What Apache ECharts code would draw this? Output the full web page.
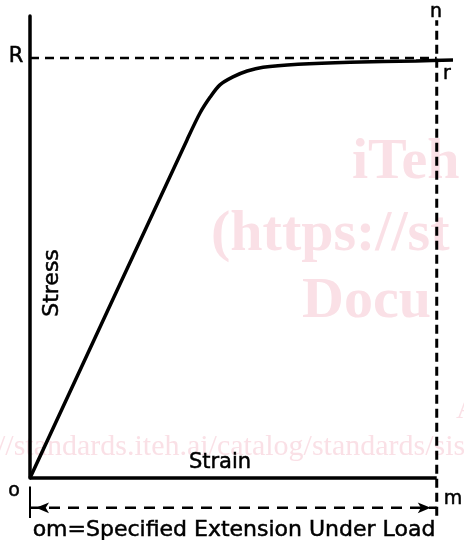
<!DOCTYPE html>
<html>
<head>
<meta charset="utf-8">
<title>Stress-strain</title>
<script src="https://cdn.jsdelivr.net/npm/echarts@6/dist/echarts.min.js"></script>
<style>
  html, body { margin: 0; padding: 0; background: #fff; }
  #chart { width: 464px; height: 540px; }
</style>
</head>
<body>
<div id="chart"></div>
<script>
// curve (x = strain, y = stress, R = 100)
var strain = [0, 38.6, 41.8, 44.3, 46.7, 49.9, 53.4, 57.3, 65.9, 78.7, 94.9, 104.0];
var stress = [0, 80.5, 86.9, 90.7, 93.6, 95.5, 96.9, 97.8, 98.5, 99.0, 99.3, 99.5];
var R_level = 100;   // dashed line r
var m_level = 100;   // om, specified extension
var dimY = -7.1;     // where the om arrow sits

var labels = ['R', 'n', 'r', 'o', 'm', 'Stress', 'Strain', 'om=Specified Extension Under Load'];
var marks = ['iTeh', '(https://st', 'Docu', 'A', '//standards.iteh.ai/catalog/standards/sist'];

var curve = [];
for (var i = 0; i < strain.length; i++) {
	curve.push([strain[i], stress[i]]);
}

var font = '"DejaVu Sans", sans-serif';
function txt(s, x, y, size, extra) {
	var o = {type: 'text', x: x, y: y, z: 10,
		style: {text: s, fill: '#000', stroke: '#000', lineWidth: 0.5,
			font: size + 'px ' + font, textAlign: 'center', textVerticalAlign: 'middle'}};
	if (extra) { for (var k in extra) o[k] = extra[k]; }
	return o;
}
function wm(s, x, y, size, bold) {
	return {type: 'text', x: x, y: y, z: 0,
		style: {text: s, fill: '#fae0e6', font: (bold ? 'bold ' : '') + size + 'px "Liberation Serif", serif',
			textAlign: 'left', textVerticalAlign: 'bottom'}};
}

var chart = echarts.init(document.getElementById('chart'));
var option = {
	animation: false,
	grid: {left: 30, right: 11, top: 16, bottom: 62},
	xAxis: {type: 'value', min: 0, max: 104,
		axisLine: {show: false}, axisTick: {show: false}, axisLabel: {show: false}, splitLine: {show: false}},
	yAxis: {type: 'value', min: 0, max: 110,
		axisLine: {show: true, onZero: false, lineStyle: {color: '#000', width: 3.5}},
		axisTick: {show: false}, axisLabel: {show: false}, splitLine: {show: false}},
	graphic: [
		wm(marks[0], 352, 192, 58, true),
		wm(marks[1], 211, 264, 58, true),
		wm(marks[2], 302, 331, 58, true),
		wm(marks[3], 456, 425, 30, false),
		wm(marks[4], -3, 462, 30, false),
		txt(labels[0], 16, 57, 21),
		txt(labels[1], 436, 12, 19),
		txt(labels[2], 447, 74, 19),
		txt(labels[3], 14, 491, 19),
		txt(labels[4], 453, 499, 19),
		txt(labels[5], 52, 283, 22, {rotation: Math.PI / 2}),
		txt(labels[6], 220, 463, 21),
		txt(labels[7], 234, 530, 22)
	],
	series: [
		// strain axis, stops at m
		{type: 'line', data: [[0, 0], [m_level, 0]], showSymbol: false, clip: false,
			lineStyle: {color: '#000', width: 3.5}},
		{type: 'line', data: curve, smooth: 0.3, showSymbol: false, clip: false, z: 5,
			lineStyle: {color: '#000', width: 3.5}},
		{type: 'line', data: [[0, R_level], [m_level, R_level]], showSymbol: false, clip: false,
			lineStyle: {color: '#000', width: 2.5, type: [9, 6]}},
		{type: 'line', data: [[m_level, -9], [m_level, 109]], showSymbol: false, clip: false,
			lineStyle: {color: '#000', width: 3, type: [9, 5]}},
		// om dimension arrow
		{type: 'line', clip: false, symbol: 'arrow', symbolSize: [8, 13], showSymbol: true,
			itemStyle: {color: '#000'},
			lineStyle: {color: '#000', width: 2.5, type: [11, 8]},
			data: [
				{value: [0, dimY], symbolRotate: 90, symbolOffset: [6, 0]},
				{value: [m_level, dimY], symbolRotate: -90, symbolOffset: [-6, 0]}
			]},
		{type: 'line', data: [[0, -2], [0, -9.5]], showSymbol: false, clip: false,
			lineStyle: {color: '#000', width: 2}}
	]
};
chart.setOption(option);
</script>
</body>
</html>
